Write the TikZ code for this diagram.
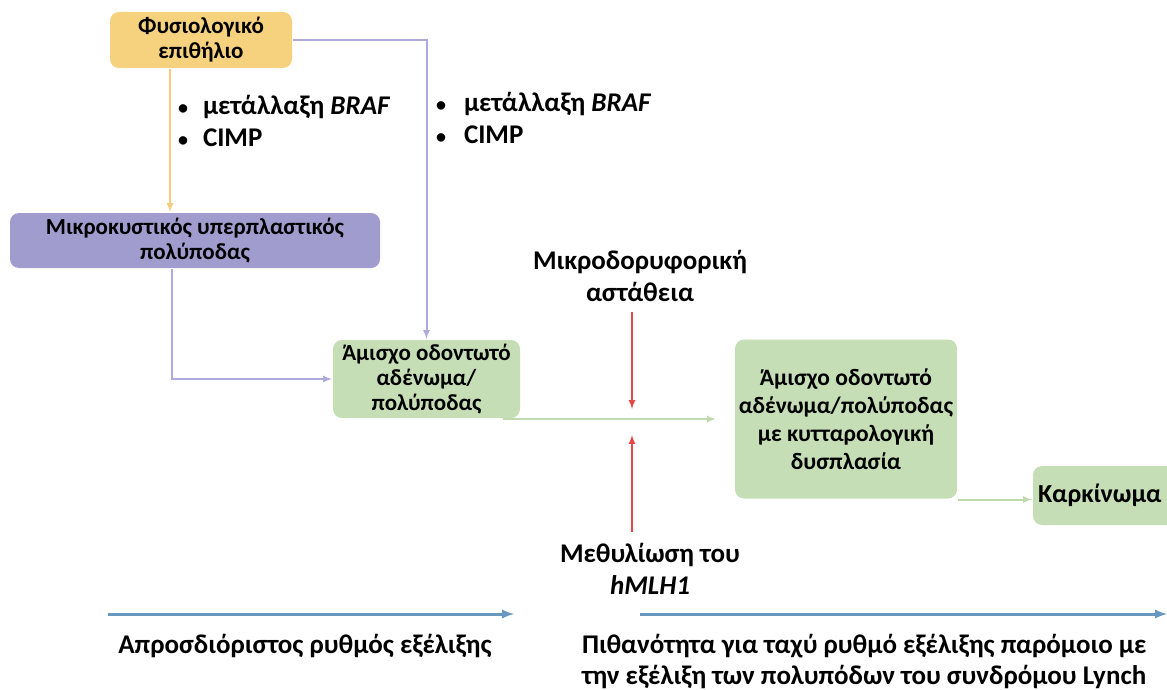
\documentclass[tikz,border=0pt]{standalone}
\usepackage{fontspec}
\setmainfont{Carlito}
\definecolor{ylwfill}{RGB}{246,209,126}
\definecolor{ylwline}{RGB}{245,203,125}
\definecolor{prpfill}{RGB}{160,156,206}
\definecolor{prpline}{RGB}{172,170,222}
\definecolor{grnfill}{RGB}{198,222,182}
\definecolor{grnline}{RGB}{192,218,176}
\definecolor{redline}{RGB}{228,72,72}
\definecolor{blueline}{RGB}{104,152,192}
\newcommand{\blt}[1]{\makebox[#1][l]{\fontsize{20}{20}\selectfont •}}

\begin{document}
\begin{tikzpicture}[x=1pt,y=-1pt, -latex, line width=2pt,
box/.style ={rectangle, rounded corners=9pt, align=center, inner sep=0pt,
  font=\fontsize{23}{25}\selectfont\bfseries},
label/.style ={align=center, inner sep=0pt, font=\fontsize{27}{32}\selectfont\bfseries}]

\useasboundingbox (0,0) rectangle (1167,690);

\node[box, fill=ylwfill, minimum width=182pt, minimum height=56pt] (fysio) at (201,40) {Φυσιολογικό\\επιθήλιο};
\node[box, fill=prpfill, minimum width=370pt, minimum height=55pt] (mikro) at (195,240.5) {Μικροκυστικός υπερπλαστικός\\πολύποδας};
\node[box, fill=grnfill, minimum width=187pt, minimum height=78pt, font=\fontsize{23}{25}\selectfont\bfseries] (amisxo) at (426.5,379) {Άμισχο οδοντωτό\\αδένωμα/\\πολύποδας};
\node[box, fill=grnfill, minimum width=222pt, minimum height=159pt, font=\fontsize{23.5}{28}\selectfont\bfseries] (dysp) at (846,419) {Άμισχο οδοντωτό\\αδένωμα/πολύποδας\\με κυτταρολογική\\δυσπλασία};
\node[box, fill=grnfill, minimum width=144pt, minimum height=59pt, text width=144pt, align=left, font=\fontsize{26}{28}\selectfont\bfseries] (karki) at (1105,495.5) {\hspace*{5pt}Καρκίνωμα};

\node[label, align=left, anchor=west] (braf1) at (177,121) {\blt{25pt}μετάλλαξη \textit{BRAF}\\\blt{25pt}CIMP};
\node[label, align=left, anchor=west] (braf2) at (435,118) {\blt{28pt}μετάλλαξη \textit{BRAF}\\\blt{28pt}CIMP};
\node[label] (msi) at (640,276) {Μικροδορυφορική\\αστάθεια};
\node[label] (methyl) at (650,569) {Μεθυλίωση του\\\textit{hMLH1}};
\node[label] (aprosd) at (305,646) {Απροσδιόριστος ρυθμός εξέλιξης};
\node[label, align=left, anchor=west, font=\fontsize{27}{31}\selectfont\bfseries] (pithan) at (581,661.5) {Πιθανότητα για ταχύ ρυθμό εξέλιξης παρόμοιο με\\την εξέλιξη των πολυπόδων του συνδρόμου Lynch};

\coordinate (redtop) at (632,312);
\coordinate (redup) at (632,409);
\coordinate (redbot) at (632,532);
\coordinate (reddown) at (632,435);
\coordinate (ax1a) at (108,614);
\coordinate (ax1b) at (514,614);
\coordinate (ax2a) at (640,614);
\coordinate (ax2b) at (1167,614);

\draw[ylwline] ([xshift=-31pt]fysio.south) -- ([xshift=-31pt]fysio.south |- mikro.north);
\draw[prpline] (fysio.east) -| (amisxo.north);
\draw[prpline] ([xshift=-23pt]mikro.south) |- (amisxo.west);
\draw[grnline] ([xshift=-18pt]amisxo.south east) -- ([xshift=-18pt]amisxo.south east -| dysp.west);
\draw[grnline] (dysp.south east) -- (dysp.south east -| karki.west);
\draw[redline] (redtop) -- (redup);
\draw[redline] (redbot) -- (reddown);
\draw[blueline, line width=3pt] (ax1a) -- (ax1b);
\draw[blueline, line width=3pt] (ax2a) -- (ax2b);

\end{tikzpicture}
\end{document}
